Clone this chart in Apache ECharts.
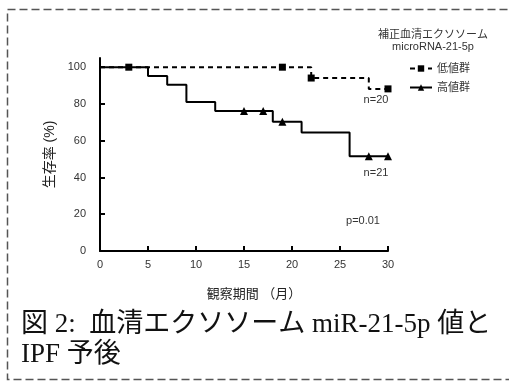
<!DOCTYPE html>
<html>
<head>
<meta charset="utf-8">
<script src="https://cdn.jsdelivr.net/npm/echarts@6/dist/echarts.min.js"></script>
<style>
html,body{margin:0;padding:0;background:#fff;}
#chart{width:509px;height:382px;}
</style>
</head>
<body>
<div id="chart"></div>
<script>
// ---- data ----
var lowName = '低値群';
var highName = '高値群';
var lowTimes = [0, 3, 19, 22, 28, 30];
var lowSurv = [100, 100, 100, 94.1, 88.2, 88.2];
var lowCensor = [0, 1, 1, 1, 0, 1];
var highTimes = [0, 5, 7, 9, 12, 15, 17, 18, 19, 21, 26, 28, 30];
var highSurv = [100, 95.2, 90.5, 81.0, 76.2, 76.2, 76.2, 70.3, 70.3, 64.5, 51.6, 51.6, 51.6];
var highCensor = [0, 0, 0, 0, 0, 1, 1, 0, 1, 0, 0, 1, 1];
var yTicks = [0, 20, 40, 60, 80, 100];
var legendTitle = ['補正血清エクソソーム', 'microRNA-21-5p'];
var xName = '観察期間 （月）';
var yName = '生存率 (%)';
var notes = ['n=20', 'n=21', 'p=0.01'];
var captionLines = ['図 2:  血清エクソソーム miR-21-5p 値と', 'IPF 予後'];

var sans = '"Liberation Sans", Arial, "Noto Sans CJK JP", sans-serif';
var serif = '"Liberation Serif", "Noto Sans CJK JP", serif';

function build(times, surv, censor) {
  return times.map(function (t, i) {
    return { value: [t, surv[i]], symbol: censor[i] ? undefined : 'none' };
  });
}

var chart = echarts.init(document.getElementById('chart'), null, { renderer: 'canvas' });
chart.setOption({
  animation: false,
  backgroundColor: '#fff',
  grid: { left: 100, right: 121, top: 58, bottom: 131, containLabel: false },
  xAxis: {
    type: 'value', min: 0, max: 30, interval: 5,
    name: xName, nameLocation: 'middle', nameGap: 37,
    nameTextStyle: { fontFamily: sans, fontSize: 13, color: '#222', padding: [0, 0, 0, 20] },
    axisLine: { lineStyle: { color: '#000', width: 2 } },
    axisTick: { inside: true, length: 5, lineStyle: { color: '#000', width: 2 } },
    axisLabel: { fontFamily: sans, fontSize: 11, color: '#333', margin: 8 },
    splitLine: { show: false }
  },
  yAxis: {
    type: 'value', min: 0, max: 105,
    name: yName, nameLocation: 'middle', nameGap: 38,
    nameTextStyle: { fontFamily: sans, fontSize: 14, color: '#222' },
    axisLine: { onZero: false, lineStyle: { color: '#000', width: 2 } },
    axisTick: { inside: true, length: 5, customValues: yTicks, lineStyle: { color: '#000', width: 2 } },
    axisLabel: { fontFamily: sans, fontSize: 11, color: '#333', margin: 14, customValues: yTicks },
    splitLine: { show: false }
  },
  legend: {
    orient: 'vertical', left: 404, top: 58, itemGap: 8,
    itemWidth: 22, itemHeight: 8,
    textStyle: { fontFamily: sans, fontSize: 11, color: '#333' },
    data: [lowName, highName]
  },
  series: [
    {
      name: lowName, type: 'line', step: 'end',
      data: build(lowTimes, lowSurv, lowCensor),
      symbol: 'rect', symbolSize: 7, showSymbol: true,
      lineStyle: { color: '#000', width: 2, type: [5, 4] },
      itemStyle: { color: '#000' }, z: 3
    },
    {
      name: highName, type: 'line', step: 'end',
      data: build(highTimes, highSurv, highCensor),
      symbol: 'triangle', symbolSize: 8, showSymbol: true,
      lineStyle: { color: '#000', width: 2, type: 'solid' },
      itemStyle: { color: '#000' }, z: 2
    }
  ],
  graphic: [
    { type: 'rect', left: 5, top: 7, silent: true,
      shape: { x: 0, y: 0, width: 530, height: 370 },
      style: { fill: 'none', stroke: '#555', lineWidth: 1.5, lineDash: [8, 4] } },
    { type: 'text', x: 433, y: 35, style: { text: legendTitle[0], font: '11px ' + sans, fill: '#333', textAlign: 'center', textVerticalAlign: 'middle' } },
    { type: 'text', x: 433, y: 47, style: { text: legendTitle[1], font: '11px ' + sans, fill: '#333', textAlign: 'center', textVerticalAlign: 'middle' } },
    { type: 'text', x: 376, y: 100, style: { text: notes[0], font: '11px ' + sans, fill: '#333', textAlign: 'center', textVerticalAlign: 'middle' } },
    { type: 'text', x: 376, y: 173, style: { text: notes[1], font: '11px ' + sans, fill: '#333', textAlign: 'center', textVerticalAlign: 'middle' } },
    { type: 'text', x: 363, y: 221, style: { text: notes[2], font: '11px ' + sans, fill: '#333', textAlign: 'center', textVerticalAlign: 'middle' } },
    { type: 'text', x: 21, y: 325, style: { text: captionLines[0], font: '27px ' + serif, fill: '#111', textAlign: 'left', textVerticalAlign: 'middle' } },
    { type: 'text', x: 21, y: 355, style: { text: captionLines[1], font: '27px ' + serif, fill: '#111', textAlign: 'left', textVerticalAlign: 'middle' } }
  ]
});
</script>
</body>
</html>
